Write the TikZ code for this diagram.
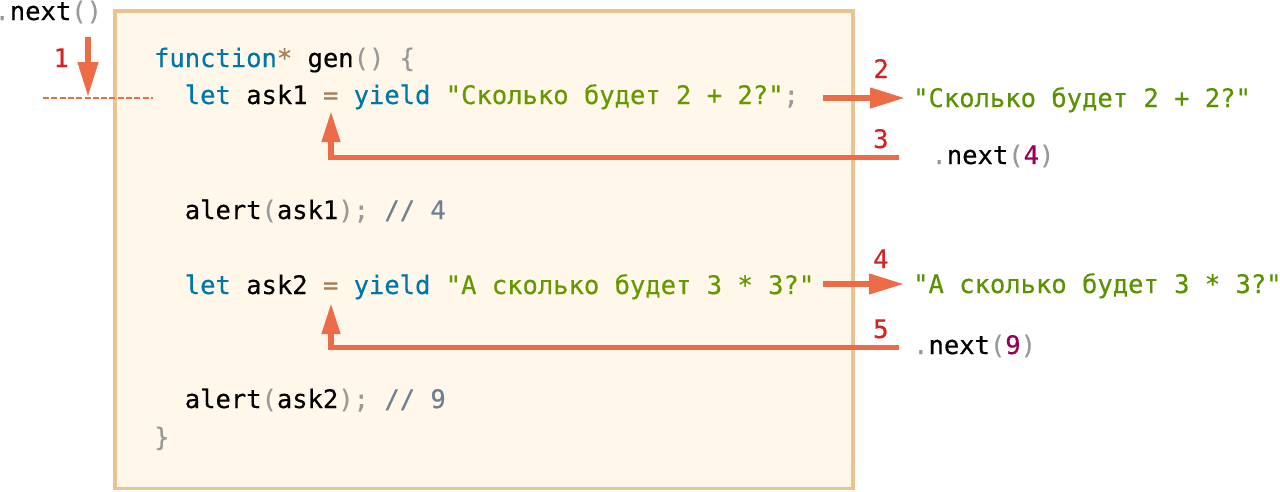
\documentclass[tikz,border=0pt]{standalone}
\usepackage{fontspec}
\setmonofont{DejaVu Sans Mono}[FakeBold=0.4]
\usetikzlibrary{arrows.meta}
\definecolor{kwc}{HTML}{0077AA}
\definecolor{strc}{HTML}{669900}
\definecolor{strr}{HTML}{5A9200}
\definecolor{opc}{HTML}{A67F59}
\definecolor{punc}{HTML}{999999}
\definecolor{cmtc}{HTML}{708090}
\definecolor{numc}{HTML}{990055}
\definecolor{redc}{HTML}{D42222}
\definecolor{arrc}{HTML}{EE6B47}
\definecolor{boxb}{HTML}{E9C490}
\definecolor{boxf}{HTML}{FFF8EA}
\newcommand\jkw[1]{\textcolor{kwc}{#1}}
\newcommand\jstr[1]{\textcolor{strc}{#1}}
\newcommand\jstrr[1]{\textcolor{strr}{#1}}
\newcommand\jop[1]{\textcolor{opc}{#1}}
\newcommand\jpu[1]{\textcolor{punc}{#1}}
\newcommand\jcm[1]{\textcolor{cmtc}{#1}}
\newcommand\jnum[1]{\textcolor{numc}{#1}}
\tikzset{
  code/.style={anchor=base west, inner sep=0pt, font=\ttfamily\fontsize{25.5}{30}\selectfont},
  steplabel/.style={code, text=redc},
  arr/.style={draw=arrc, line width=5.7pt},
  bighead/.style={-{Triangle[length=35pt,width=19.5pt]}},
  smallhead/.style={-{Triangle[length=31pt,width=17.5pt]}},
  dashline/.style={draw=arrc, line width=2pt, dash pattern=on 6pt off 2.3pt},
  codebox/.style={draw=boxb, fill=boxf, line width=3.5pt}
}
\begin{document}
\begin{tikzpicture}[x=1pt,y=-1pt]
\useasboundingbox (0,0) rectangle (1280,491);
\fill[white] (0,0) rectangle (1280,491);
% code box
\draw[codebox] (115,11) rectangle (853,488.5);
% code lines
\node[code] (l1) at (153.9,67) {\jkw{function}\jop{*} gen\jpu{()} \jpu{\{}};
\node[code] (l2) at (184.6,104) {\jkw{let} ask1 \jop{=} \jkw{yield} \jstr{"Сколько будет 2 + 2?"}\jpu{;}};
\node[code] (l3) at (184.6,219) {alert\jpu{(}ask1\jpu{)}\jpu{;} \jcm{// 4}};
\node[code] (l4) at (184.6,294) {\jkw{let} ask2 \jop{=} \jkw{yield} \jstr{"А сколько будет 3 * 3?"}};
\node[code] (l5) at (184.6,408) {alert\jpu{(}ask2\jpu{)}\jpu{;} \jcm{// 9}};
\node[code] (l6) at (153.9,446) {\jpu{\}}};
% outside texts
\node[code] (n0) at (-5.7,20) {\jpu{.}next\jpu{()}};
\node[code] (y1) at (913,107) {\jstrr{"Сколько будет 2 + 2?"}};
\node[code] (n4) at (931.3,164) {\jpu{.}next\jpu{(}\jnum{4}\jpu{)}};
\node[code] (y2) at (913,293) {\jstrr{"А сколько будет 3 * 3?"}};
\node[code] (n9) at (913,354) {\jpu{.}next\jpu{(}\jnum{9}\jpu{)}};
% step labels
\node[steplabel] (s1) at (53.3,67) {1};
\node[steplabel] (s2) at (873.3,78) {2};
\node[steplabel] (s3) at (873,148) {3};
\node[steplabel] (s4) at (873,268) {4};
\node[steplabel] (s5) at (873,338) {5};
% connector coordinates
\coordinate (a1s) at (88,37);
\coordinate (a1e) at (88,97);
\coordinate (d1) at (43,98);
\coordinate (d2) at (153,98);
\coordinate (a2s) at (823,98);
\coordinate (a2e) at (905,98);
\coordinate (a3s) at (899,157.5);
\coordinate (a3e) at (331,111);
\coordinate (a4s) at (823,284);
\coordinate (a4e) at (904,284);
\coordinate (a5s) at (899,347.5);
\coordinate (a5e) at (331,303);
% connectors
\draw[dashline] (d1) -- (d2);
\draw[arr, bighead] (a1s) -- (a1e);
\draw[arr, bighead] (a2s) -- (a2e);
\draw[arr, smallhead] (a3s) -| (a3e);
\draw[arr, bighead] (a4s) -- (a4e);
\draw[arr, smallhead] (a5s) -| (a5e);
\end{tikzpicture}
\end{document}
